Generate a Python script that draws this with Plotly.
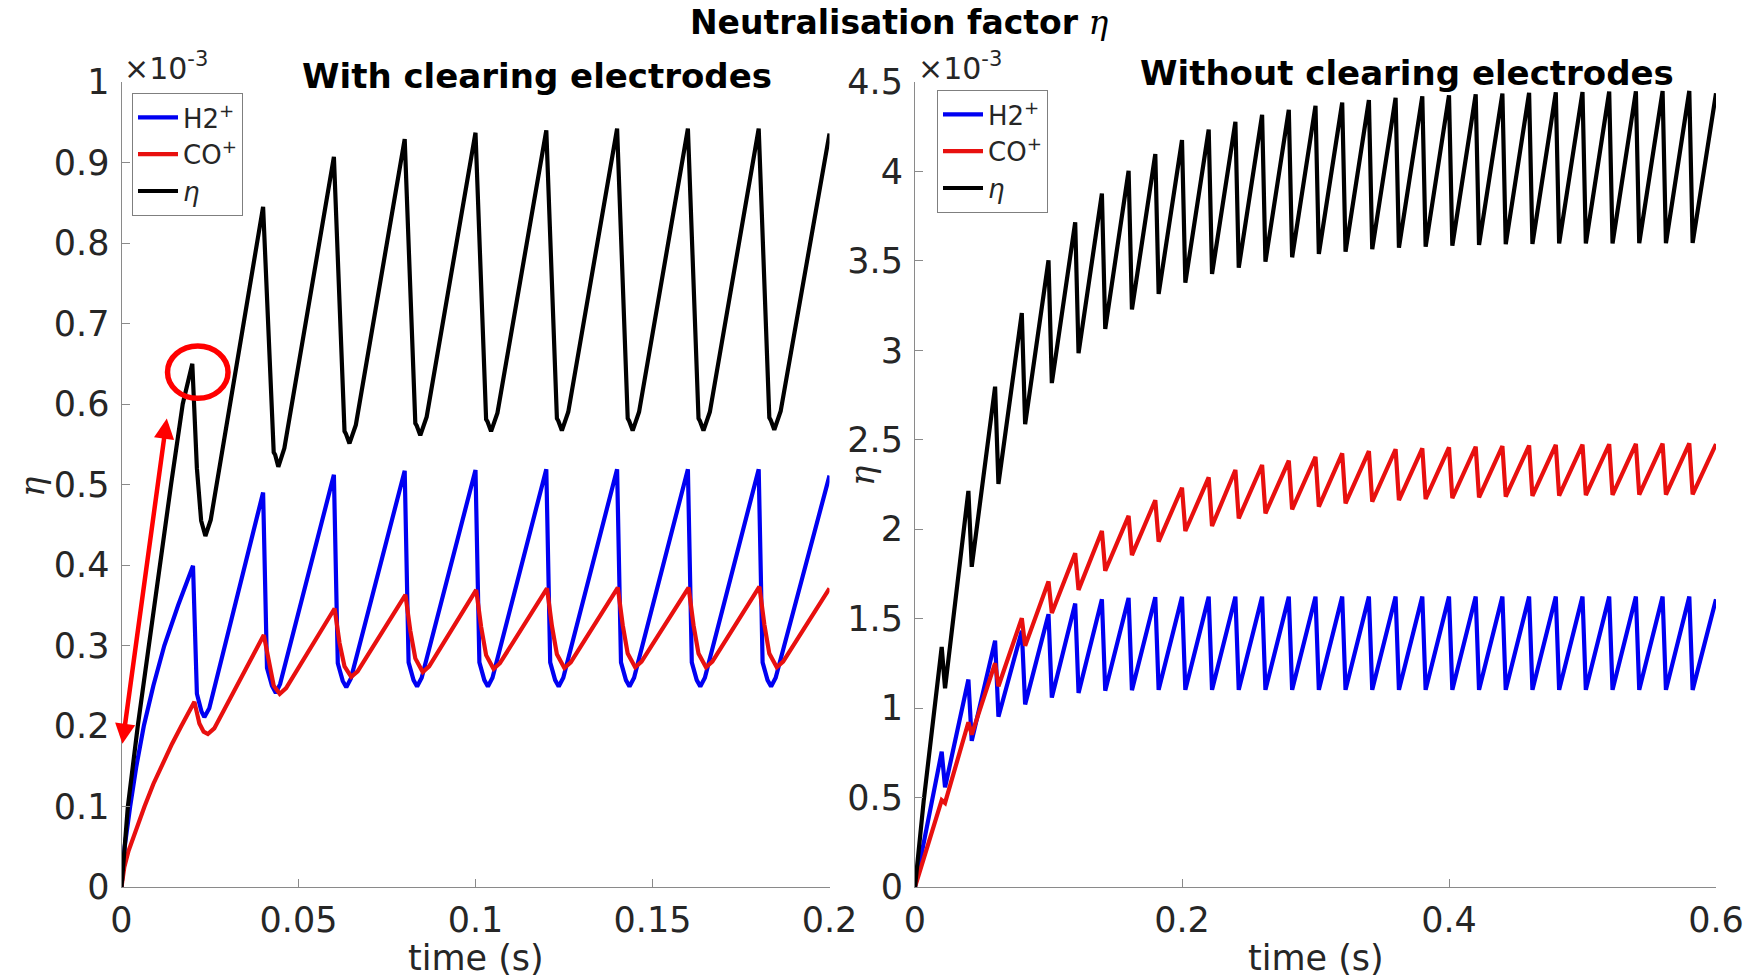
import plotly.graph_objects as go

# ---------------------------------------------------------------------------
# Neutralisation factor eta (values in units of 1e-3) versus time (s)
# ---------------------------------------------------------------------------

# Left panel: with clearing electrodes (clearing pulse every 20 ms)
L_T_ETA = [0, 0.0018, 0.0046, 0.0077, 0.0107, 0.0140, 0.0173, 0.0200,
           0.0213, 0.0225, 0.0237, 0.0252,
           0.0400, 0.0430, 0.0434, 0.0443, 0.0460,
           0.0600, 0.0630, 0.0634, 0.0644, 0.0662,
           0.0800, 0.0830, 0.0834, 0.0844, 0.0862,
           0.1000, 0.1030, 0.1034, 0.1044, 0.1062,
           0.1200, 0.1230, 0.1234, 0.1244, 0.1262,
           0.1400, 0.1430, 0.1434, 0.1444, 0.1462,
           0.1600, 0.1630, 0.1634, 0.1644, 0.1662,
           0.1800, 0.1830, 0.1834, 0.1844, 0.1862,
           0.2000]
L_ETA = [0, 0.10, 0.20, 0.30, 0.40, 0.50, 0.60, 0.650,
         0.520, 0.455, 0.436, 0.456,
         0.845, 0.540, 0.537, 0.522, 0.545,
         0.907, 0.566, 0.563, 0.551, 0.574,
         0.929, 0.576, 0.573, 0.561, 0.584,
         0.937, 0.581, 0.578, 0.566, 0.589,
         0.940, 0.582, 0.579, 0.567, 0.590,
         0.942, 0.582, 0.579, 0.567, 0.590,
         0.942, 0.582, 0.579, 0.567, 0.590,
         0.942, 0.583, 0.580, 0.568, 0.591,
         0.936]

L_T_H2 = [0, 0.0009, 0.00245, 0.0042, 0.0063, 0.0090, 0.0121, 0.0160, 0.0202,
          0.0213, 0.0226, 0.0234, 0.0248,
          0.0400, 0.0411, 0.0425, 0.0436, 0.0448,
          0.0600, 0.0611, 0.0625, 0.0635, 0.0648,
          0.0800, 0.0811, 0.0825, 0.0835, 0.0848,
          0.1000, 0.1011, 0.1025, 0.1035, 0.1048,
          0.1200, 0.1211, 0.1225, 0.1235, 0.1248,
          0.1400, 0.1411, 0.1425, 0.1435, 0.1448,
          0.1600, 0.1611, 0.1625, 0.1635, 0.1648,
          0.1800, 0.1811, 0.1825, 0.1835, 0.1848,
          0.2000]
L_H2 = [0, 0.05, 0.10, 0.15, 0.20, 0.25, 0.30, 0.35, 0.399,
        0.240, 0.218, 0.211, 0.222,
        0.490, 0.272, 0.250, 0.241, 0.252,
        0.512, 0.278, 0.256, 0.248, 0.259,
        0.517, 0.279, 0.257, 0.249, 0.260,
        0.518, 0.279, 0.257, 0.249, 0.260,
        0.519, 0.279, 0.257, 0.249, 0.260,
        0.519, 0.279, 0.257, 0.249, 0.260,
        0.519, 0.279, 0.257, 0.249, 0.260,
        0.519, 0.279, 0.257, 0.249, 0.260,
        0.511]

L_T_CO = [0, 0.0008, 0.0020, 0.0041, 0.0065, 0.0090, 0.0117, 0.0143, 0.0169, 0.0206,
          0.0220, 0.0232, 0.0244, 0.0262,
          0.0402, 0.0416, 0.0430, 0.0447, 0.0465,
          0.0602, 0.0616, 0.0630, 0.0649, 0.0667,
          0.0802, 0.0816, 0.0830, 0.0851, 0.0869,
          0.1002, 0.1016, 0.1030, 0.1051, 0.1069,
          0.1202, 0.1216, 0.1230, 0.1251, 0.1269,
          0.1402, 0.1416, 0.1430, 0.1451, 0.1469,
          0.1602, 0.1616, 0.1630, 0.1651, 0.1669,
          0.1802, 0.1816, 0.1830, 0.1851, 0.1869,
          0.2000]
L_CO = [0, 0.025, 0.045, 0.072, 0.100, 0.128, 0.154, 0.178, 0.200, 0.230,
        0.203, 0.193, 0.190, 0.197,
        0.313, 0.281, 0.250, 0.240, 0.247,
        0.346, 0.303, 0.274, 0.261, 0.268,
        0.363, 0.318, 0.284, 0.267, 0.274,
        0.369, 0.323, 0.288, 0.271, 0.278,
        0.371, 0.324, 0.289, 0.272, 0.279,
        0.372, 0.325, 0.290, 0.273, 0.280,
        0.372, 0.325, 0.290, 0.273, 0.280,
        0.373, 0.326, 0.290, 0.273, 0.280,
        0.371]

# Right panel: without clearing electrodes, one sawtooth per 20 ms bunch train
R_PEAK_T = [round(0.02 * k, 2) for k in range(1, 30)]
R_TROUGH_T = [round(t + 0.0025, 4) for t in R_PEAK_T]
R_END_T = 0.6

R_ETA_START_T = [0, 0.0065]
R_ETA_START = [0, 0.48]
R_ETA_PEAK = [1.342, 2.214, 2.797, 3.208, 3.503, 3.716, 3.876, 4.003, 4.097, 4.176,
              4.234, 4.277, 4.316, 4.345, 4.367, 4.385, 4.399, 4.411, 4.420, 4.426,
              4.431, 4.435, 4.439, 4.442, 4.444, 4.446, 4.448, 4.449, 4.450]
R_ETA_TROUGH = [1.111, 1.790, 2.253, 2.587, 2.817, 2.984, 3.120, 3.228, 3.315, 3.378,
                3.427, 3.462, 3.496, 3.520, 3.539, 3.551, 3.565, 3.574, 3.579, 3.585,
                3.589, 3.593, 3.595, 3.597, 3.598, 3.598, 3.599, 3.599, 3.600]
R_ETA_END = 4.437

R_H2_START_T = [0]
R_H2_START = [0]
R_H2_PEAK = [0.756, 1.160, 1.377, 1.432, 1.525, 1.585, 1.608, 1.616, 1.620, 1.622,
             1.623, 1.623, 1.623, 1.623, 1.623, 1.624, 1.624, 1.624, 1.624, 1.624,
             1.624, 1.624, 1.624, 1.624, 1.624, 1.624, 1.624, 1.624, 1.624]
R_H2_TROUGH = [0.557, 0.817, 0.952, 1.021, 1.059, 1.085, 1.097, 1.100, 1.102, 1.102,
               1.102, 1.102, 1.102, 1.102, 1.102, 1.102, 1.102, 1.102, 1.102, 1.102,
               1.102, 1.102, 1.102, 1.102, 1.102, 1.102, 1.102, 1.102, 1.102]
R_H2_END = 1.608

R_CO_START_T = [0]
R_CO_START = [0]
R_CO_PEAK = [0.486, 0.921, 1.251, 1.503, 1.708, 1.866, 1.990, 2.075, 2.162, 2.232,
             2.290, 2.331, 2.359, 2.383, 2.405, 2.424, 2.437, 2.447, 2.452, 2.458,
             2.461, 2.465, 2.468, 2.471, 2.473, 2.475, 2.477, 2.478, 2.480]
R_CO_TROUGH = [0.470, 0.852, 1.122, 1.348, 1.532, 1.661, 1.768, 1.855, 1.931, 1.990,
               2.018, 2.061, 2.089, 2.111, 2.126, 2.145, 2.154, 2.163, 2.169, 2.174,
               2.178, 2.182, 2.186, 2.188, 2.190, 2.192, 2.193, 2.193, 2.195]
R_CO_END = 2.476

# Axis ticks
L_XTICKS = [0, 0.05, 0.1, 0.15, 0.2]
L_XTICKTEXT = ["0", "0.05", "0.1", "0.15", "0.2"]
L_YTICKS = [0, 0.1, 0.2, 0.3, 0.4, 0.5, 0.6, 0.7, 0.8, 0.9, 1.0]
L_YTICKTEXT = ["0", "0.1", "0.2", "0.3", "0.4", "0.5", "0.6", "0.7", "0.8", "0.9", "1"]
R_XTICKS = [0, 0.2, 0.4, 0.6]
R_XTICKTEXT = ["0", "0.2", "0.4", "0.6"]
R_YTICKS = [0, 0.5, 1.0, 1.5, 2.0, 2.5, 3.0, 3.5, 4.0, 4.5]
R_YTICKTEXT = ["0", "0.5", "1", "1.5", "2", "2.5", "3", "3.5", "4", "4.5"]

SERIES_NAMES = ["H2<sup>+</sup>", "CO<sup>+</sup>", "<i>η</i>"]


def sawtooth(start_t, start_v, peaks, troughs, end_v):
    """Join the start segment, each peak/trough pair and the final point."""
    t, v = list(start_t), list(start_v)
    for tp, p, tt, m in zip(R_PEAK_T, peaks, R_TROUGH_T, troughs):
        t += [tp, tt]
        v += [p, m]
    t.append(R_END_T)
    v.append(end_v)
    return t, v


BLUE = "#0000f2"
RED = "#e8100f"
BLACK = "#000000"
AXIS_GRAY = "#8a8a8a"
TEXT_GRAY = "#262626"
SANS = "DejaVu Sans, Liberation Sans, Arial, sans-serif"
SERIF = "DejaVu Serif, serif"
LW = 4.2

fig = go.Figure()

left = [(L_T_H2, L_H2, BLUE), (L_T_CO, L_CO, RED), (L_T_ETA, L_ETA, BLACK)]
for name, (t, v, c) in zip(SERIES_NAMES, left):
    fig.add_trace(go.Scatter(x=t, y=v, mode="lines", name=name,
                             line=dict(color=c, width=LW),
                             xaxis="x", yaxis="y", legend="legend"))

right = [
    sawtooth(R_H2_START_T, R_H2_START, R_H2_PEAK, R_H2_TROUGH, R_H2_END) + (BLUE,),
    sawtooth(R_CO_START_T, R_CO_START, R_CO_PEAK, R_CO_TROUGH, R_CO_END) + (RED,),
    sawtooth(R_ETA_START_T, R_ETA_START, R_ETA_PEAK, R_ETA_TROUGH, R_ETA_END) + (BLACK,),
]
for name, (t, v, c) in zip(SERIES_NAMES, right):
    fig.add_trace(go.Scatter(x=t, y=v, mode="lines", name=name,
                             line=dict(color=c, width=LW),
                             xaxis="x2", yaxis="y2", legend="legend2"))

W, H = 1757, 980
Y_DOM = [(H - 887) / H, (H - 82) / H]
L_X_DOM = [121.5 / W, 829.5 / W]
R_X_DOM = [915.0 / W, 1716.0 / W]

axis_common = dict(showline=True, linecolor=AXIS_GRAY, linewidth=1,
                   ticks="inside", ticklen=8, tickwidth=1, tickcolor=AXIS_GRAY,
                   showgrid=False, zeroline=False, mirror=False, automargin=False,
                   tickfont=dict(family=SANS, size=35, color=TEXT_GRAY))

legend_common = dict(xanchor="left", yanchor="top",
                     bgcolor="white", bordercolor="#7f7f7f", borderwidth=1,
                     font=dict(family=SANS, size=26, color=TEXT_GRAY),
                     tracegroupgap=0, itemwidth=40)

fig.update_layout(
    width=W, height=H,
    margin=dict(l=0, r=0, t=0, b=0, autoexpand=False),
    paper_bgcolor="white", plot_bgcolor="white",
    xaxis=dict(domain=L_X_DOM, range=[0, 0.2], tickvals=L_XTICKS,
               ticktext=L_XTICKTEXT, anchor="y", ticklabelstandoff=2, **axis_common),
    yaxis=dict(domain=Y_DOM, range=[0, 1.0], tickvals=L_YTICKS,
               ticktext=L_YTICKTEXT, anchor="x", ticklabelstandoff=4, **axis_common),
    xaxis2=dict(domain=R_X_DOM, range=[0, 0.6], tickvals=R_XTICKS,
                ticktext=R_XTICKTEXT, anchor="y2", ticklabelstandoff=2, **axis_common),
    yaxis2=dict(domain=Y_DOM, range=[0, 4.5], tickvals=R_YTICKS,
                ticktext=R_YTICKTEXT, anchor="x2", ticklabelstandoff=4, **axis_common),
    legend=dict(x=132 / W, y=1 - 93 / H, **legend_common),
    legend2=dict(x=937 / W, y=1 - 90 / H, **legend_common),
    showlegend=True,
)

annotations = [
    # figure title
    dict(text="<b>Neutralisation factor</b> <span style='font-family:DejaVu Serif'><i>η</i></span>",
         x=900 / W, y=1 - 22 / H, font=dict(family=SANS, size=33, color="black")),
    # panel titles
    dict(text="<b>With clearing electrodes</b>", x=537 / W, y=1 - 76 / H,
         font=dict(family=SANS, size=34, color="black")),
    dict(text="<b>Without clearing electrodes</b>", x=1407 / W, y=1 - 73 / H,
         font=dict(family=SANS, size=34, color="black")),
    # exponent labels
    dict(text="×10<sup>-3</sup>", x=122 / W, y=1 - 88 / H, xanchor="left", yanchor="bottom",
         font=dict(family=SANS, size=30, color=TEXT_GRAY)),
    dict(text="×10<sup>-3</sup>", x=916 / W, y=1 - 88 / H, xanchor="left", yanchor="bottom",
         font=dict(family=SANS, size=30, color=TEXT_GRAY)),
    # axis titles
    dict(text="time (s)", x=sum(L_X_DOM) / 2, y=1 - 958 / H,
         font=dict(family=SANS, size=35, color=TEXT_GRAY)),
    dict(text="time (s)", x=sum(R_X_DOM) / 2, y=1 - 958 / H,
         font=dict(family=SANS, size=35, color=TEXT_GRAY)),
    dict(text="<i>η</i>", x=32 / W, y=1 - 487 / H, textangle=-90,
         font=dict(family=SERIF, size=34, color=TEXT_GRAY)),
    dict(text="<i>η</i>", x=862 / W, y=1 - 476 / H, textangle=-90,
         font=dict(family=SERIF, size=34, color=TEXT_GRAY)),
]
for a in annotations:
    a.update(xref="paper", yref="paper", showarrow=False)
    a.setdefault("xanchor", "center")
    a.setdefault("yanchor", "middle")
    fig.add_annotation(**a)

# Highlight of the first clearing peak and its rise in the left panel
MARK_RED = "#ff0000"
HIGHLIGHT_BOX = dict(x0=0.0130, x1=0.0301, y0=0.607, y1=0.672)
RISE_ARROW = dict(top=(0.0128, 0.582), bottom=(0.0002, 0.176))

fig.add_shape(type="circle", xref="x", yref="y", **HIGHLIGHT_BOX,
              line=dict(color=MARK_RED, width=5.5))
fig.add_annotation(x=RISE_ARROW["top"][0], y=RISE_ARROW["top"][1],
                   ax=RISE_ARROW["bottom"][0], ay=RISE_ARROW["bottom"][1],
                   xref="x", yref="y", axref="x", ayref="y", text="",
                   showarrow=True, arrowside="end+start",
                   arrowhead=2, startarrowhead=2, arrowsize=0.9, startarrowsize=0.9,
                   arrowwidth=4.5, arrowcolor=MARK_RED, standoff=0, startstandoff=0)

fig.write_html("out.html")
